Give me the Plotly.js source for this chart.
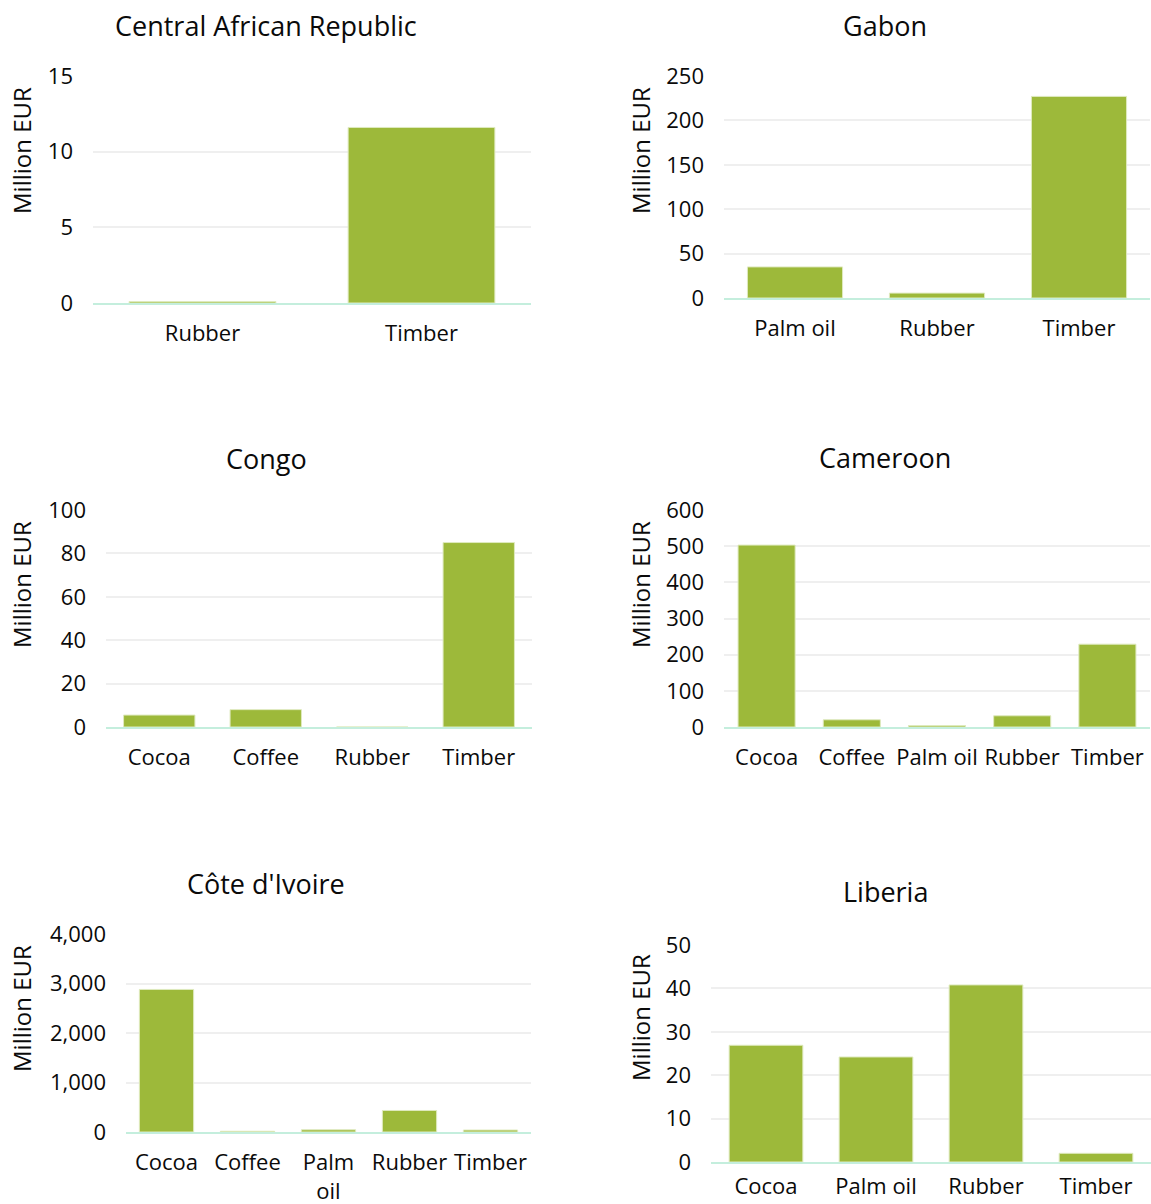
<!DOCTYPE html>
<html>
<head>
<meta charset="utf-8">
<script src="https://cdn.plot.ly/plotly-3.0.1.min.js"></script>
<style>html,body{margin:0;padding:0;background:#fff;}#chart{width:1151px;height:1204px;}</style>
</head>
<body>
<div id="chart"></div>
<script>
// ---- Data ----
const carCategories = ["Rubber", "Timber"];
const carValues = [0.1, 11.6];

const gabonCategories = ["Palm oil", "Rubber", "Timber"];
const gabonValues = [35, 5.5, 227];

const congoCategories = ["Cocoa", "Coffee", "Rubber", "Timber"];
const congoValues = [5.5, 8, 0, 85];

const cameroonCategories = ["Cocoa", "Coffee", "Palm oil", "Rubber", "Timber"];
const cameroonValues = [503, 20, 4, 31, 229];

const civCategories = ["Cocoa", "Coffee", "Palm oil", "Rubber", "Timber"];
const civTickText = ["Cocoa", "Coffee", "Palm<br>oil", "Rubber", "Timber"];
const civValues = [2880, 15, 45, 435, 40];

const liberiaCategories = ["Cocoa", "Palm oil", "Rubber", "Timber"];
const liberiaValues = [26.9, 24.2, 40.8, 2.0];

const panelTitles = ["Central African Republic", "Gabon", "Congo", "Cameroon", "Côte d'Ivoire", "Liberia"];
const yTitle = "Million EUR";

// ---- Layout helpers ----
const W = 1151, H = 1204;
const px = v => v / W;
const py = v => 1 - v / H;

const barColor = "#9DB93A";
const font = "Open Sans, Liberation Sans, Arial, sans-serif";
const textColor = "#0a0a0a";

const panels = [
  {cats: carCategories, vals: carValues, x: [93, 531], y: [76, 303], range: [0, 15], dtick: 5, title: [266, 26], ytitle: [21, 151], xstand: 10},
  {cats: gabonCategories, vals: gabonValues, x: [724, 1150], y: [76, 298], range: [0, 250], dtick: 50, title: [885, 26], ytitle: [640, 151], xstand: 10},
  {cats: congoCategories, vals: congoValues, x: [106, 532], y: [510, 727], range: [0, 100], dtick: 20, title: [266, 458], ytitle: [21, 585], xstand: 10},
  {cats: cameroonCategories, vals: cameroonValues, x: [724, 1150], y: [510, 727], range: [0, 600], dtick: 100, title: [885, 457], ytitle: [640, 585], xstand: 10},
  {cats: civCategories, vals: civValues, ticktext: civTickText, x: [126, 531], y: [934, 1132], range: [0, 4000], dtick: 1000, fmt: ",", title: [266, 883], ytitle: [21, 1009], xstand: 10},
  {cats: liberiaCategories, vals: liberiaValues, x: [711, 1151], y: [945, 1162], range: [0, 50], dtick: 10, title: [885, 891], ytitle: [640, 1018], xstand: 4}
];

const data = [];
const layout = {
  width: W, height: H,
  margin: {l: 0, r: 0, t: 0, b: 0},
  paper_bgcolor: "#ffffff",
  plot_bgcolor: "#ffffff",
  showlegend: false,
  bargap: 0.33,
  font: {family: font, color: textColor, size: 22},
  annotations: []
};

panels.forEach((p, i) => {
  const n = i + 1;
  const xa = n === 1 ? "x" : "x" + n;
  const ya = n === 1 ? "y" : "y" + n;
  data.push({
    type: "bar",
    x: p.cats,
    y: p.vals,
    xaxis: xa,
    yaxis: ya,
    marker: {color: barColor, line: {color: "#dfeabf", width: 1}},
    hoverinfo: "x+y"
  });
  layout["xaxis" + (n === 1 ? "" : n)] = {
    domain: [px(p.x[0]), px(p.x[1])],
    anchor: ya,
    type: "category",
    showgrid: false,
    zeroline: false,
    showline: true,
    linecolor: "#c4eedd",
    linewidth: 2,
    ticks: "",
    tickvals: p.cats,
    ticktext: p.ticktext || p.cats,
    ticklabelstandoff: p.xstand,
    tickfont: {family: font, size: 22, color: textColor},
    fixedrange: true
  };
  layout["yaxis" + (n === 1 ? "" : n)] = {
    domain: [py(p.y[1]), py(p.y[0])],
    anchor: xa,
    range: p.range,
    dtick: p.dtick,
    tick0: 0,
    tickformat: p.fmt || "",
    showgrid: true,
    gridcolor: "#efefef",
    gridwidth: 2,
    zeroline: false,
    showline: false,
    ticks: "",
    ticklabelstandoff: 19,
    tickfont: {family: font, size: 22, color: textColor},
    fixedrange: true
  };
  layout.annotations.push({
    xref: "paper", yref: "paper",
    x: px(p.title[0]), y: py(p.title[1]),
    xanchor: "center", yanchor: "middle",
    text: panelTitles[i], showarrow: false,
    font: {family: font, size: 27, color: textColor}
  });
  layout.annotations.push({
    xref: "paper", yref: "paper",
    x: px(p.ytitle[0]), y: py(p.ytitle[1]),
    xanchor: "center", yanchor: "middle",
    textangle: -90,
    text: yTitle, showarrow: false,
    font: {family: font, size: 24, color: textColor}
  });
});

Plotly.newPlot("chart", data, layout, {displayModeBar: false, staticPlot: true});
</script>
</body>
</html>
